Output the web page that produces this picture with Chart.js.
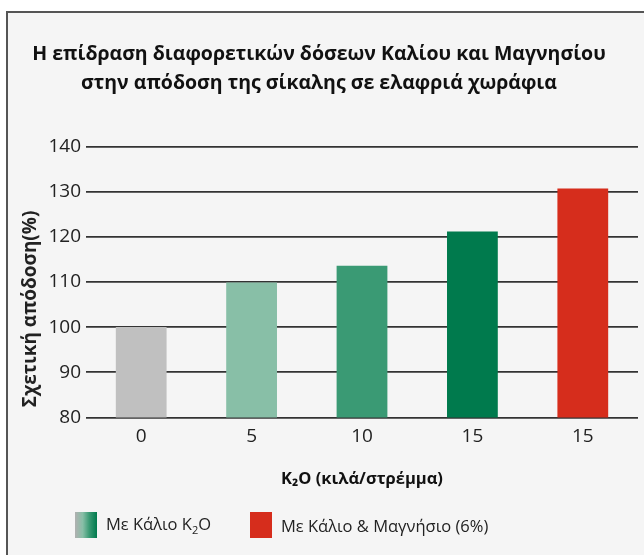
<!DOCTYPE html>
<html>
<head>
<meta charset="utf-8">
<script src="https://cdn.jsdelivr.net/npm/chart.js@4/dist/chart.umd.min.js"></script>
<style>
  html,body{margin:0;padding:0;background:#fff;}
  #wrap{position:relative;width:644px;height:555px;overflow:hidden;}
  #frame{position:absolute;left:6px;top:11px;width:640px;height:546px;background:#f5f5f5;border-left:2px solid #555;border-top:2px solid #555;}
  #c{position:absolute;left:0;top:0;}
  .leg{position:absolute;top:512px;height:26px;display:flex;align-items:center;font-family:"Open Sans",sans-serif;font-size:16.5px;color:#222;}
  .sw{width:22px;height:26px;margin-right:9px;}
</style>
</head>
<body>
<div id="wrap">
  <div id="frame"></div>
  <canvas id="c" width="644" height="555"></canvas>
  <div class="leg" style="left:75px;"><div class="sw" style="background:linear-gradient(to right,#b0b0b0 0%,#88bfa7 35%,#3a9a74 65%,#007a4d 100%);"></div><span>Με Κάλιο K<sub style="font-size:11px;">2</sub>O</span></div>
  <div class="leg" style="left:250px;"><div class="sw" style="background:#d62d1c;"></div><span>Με Κάλιο &amp; Μαγνήσιο (6%)</span></div>
</div>
<script>
const categories = ["0", "5", "10", "15", "15"];
const values = [100, 109.9, 113.6, 121.2, 130.7];
const barColors = ["#c0c0c0", "#88bfa7", "#3a9a74", "#007a4d", "#d62d1c"];
const yTicks = [80, 90, 100, 110, 120, 130, 140];
const titleLines = ["Η επίδραση διαφορετικών δόσεων Καλίου και Μαγνησίου", "στην απόδοση της σίκαλης σε ελαφριά χωράφια"];
const yTitle = "Σχετική απόδοση(%)";
const xTitle = "K₂O (κιλά/στρέμμα)";

const FONT = '"Open Sans", sans-serif';

const yTitlePlugin = {
  id: 'yTitlePlugin',
  afterDraw(chart) {
    const ctx = chart.ctx;
    ctx.save();
    ctx.translate(31, 309);
    ctx.rotate(-Math.PI / 2);
    ctx.font = 'bold 19px ' + FONT;
    ctx.fillStyle = '#222';
    ctx.textAlign = 'center';
    ctx.textBaseline = 'middle';
    ctx.fillText(yTitle, 0, 0);
    ctx.restore();
  }
};

new Chart(document.getElementById('c'), {
  type: 'bar',
  data: {
    labels: categories,
    datasets: [{
      data: values,
      backgroundColor: barColors,
      barPercentage: 0.92,
      categoryPercentage: 0.5
    }]
  },
  options: {
    responsive: false,
    animation: false,
    devicePixelRatio: 1,
    layout: { padding: { left: 0, right: 6, top: 0, bottom: 66 } },
    plugins: {
      legend: { display: false },
      tooltip: { enabled: false },
      title: {
        display: true,
        text: titleLines,
        color: '#111',
        font: { family: FONT, size: 19.5, weight: 'bold', lineHeight: 1.5 },
        padding: { top: 40, bottom: 48 }
      }
    },
    scales: {
      y: {
        min: 80, max: 140,
        afterBuildTicks(scale) { scale.ticks = yTicks.map(v => ({ value: v })); },
        afterFit(scale) { scale.width = 86; },
        border: { display: false },
        grid: { color: '#333', lineWidth: 1.8, drawTicks: false },
        ticks: { color: '#222', font: { family: FONT, size: 19 }, padding: 5 }
      },
      x: {
        border: { display: false },
        grid: { display: false, drawTicks: false },
        ticks: { color: '#222', font: { family: FONT, size: 19 }, padding: 8 },
        title: { display: true, text: xTitle, color: '#111', font: { family: FONT, size: 16.5, weight: 'bold' }, padding: { top: 13, bottom: 0 } }
      }
    }
  },
  plugins: [yTitlePlugin]
});
</script>
</body>
</html>
